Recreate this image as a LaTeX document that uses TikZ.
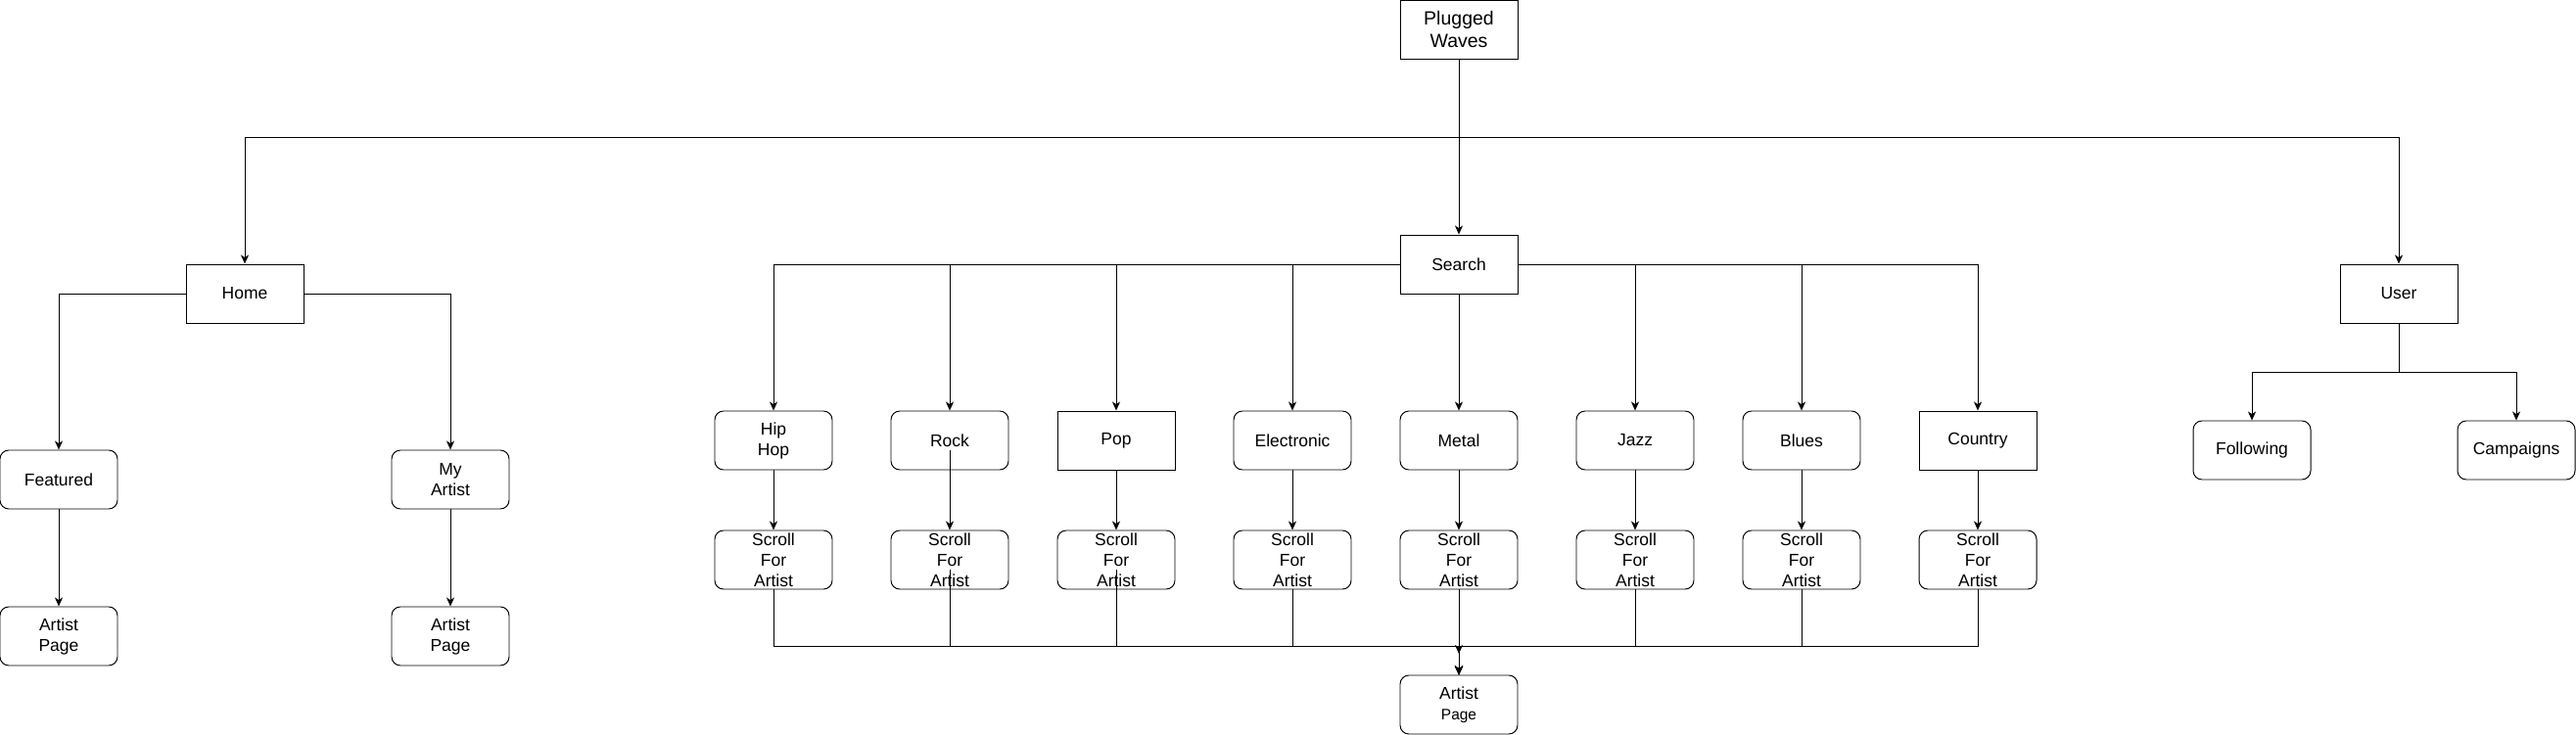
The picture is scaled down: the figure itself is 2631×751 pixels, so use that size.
\documentclass[tikz,border=0pt]{standalone}
\usepackage{fontspec}
\setmainfont{Liberation Sans}
\usetikzlibrary{arrows.meta}
\begin{document}
\begin{tikzpicture}[x=1pt,y=-1pt,line width=0.95pt,
  box/.style={draw, minimum width=120pt, minimum height=60pt, inner sep=0pt, align=center, font=\fontsize{17.5}{21}\selectfont},
  rbox/.style={box, rounded corners=9pt},
  arr/.style={-{Stealth[length=9pt,width=8pt,inset=2.5pt]}}]
\useasboundingbox (0,0) rectangle (2631,751);
% top
\node[box, font=\fontsize{19.5}{23.5}\selectfont] (pw) at (1490,30) {Plugged\\Waves};
\node[box] (home) at (250,300) {Home};
\node[box] (search) at (1490,270) {Search};
\node[box] (user) at (2450,300) {User};
% home branch
\node[rbox] (feat) at (60,490) {Featured};
\node[rbox] (myart) at (460,490) {My\\Artist};
\node[rbox] (apA) at (60,650) {Artist\\Page};
\node[rbox] (apB) at (460,650) {Artist\\Page};
% genres
\node[rbox] (g1) at (790,450) {Hip\\Hop};
\node[rbox] (g2) at (970,450) {Rock};
\node[box]  (g3) at (1140,450) {Pop};
\node[rbox] (g4) at (1320,450) {Electronic};
\node[rbox] (g5) at (1490,450) {Metal};
\node[rbox] (g6) at (1670,450) {Jazz};
\node[rbox] (g7) at (1840,450) {Blues};
\node[box]  (g8) at (2020,450) {Country};
% scroll boxes
\foreach \i/\x in {1/790,2/970,3/1140,4/1320,5/1490,6/1670,7/1840,8/2020}
  \node[rbox] (s\i) at (\x,572) {Scroll\\For\\Artist};
\node[rbox] (ap) at (1490,720) {Artist\\{\fontsize{15.5}{18}\selectfont Page}};
% user branch
\node[rbox] (follow) at (2300,460) {Following};
\node[rbox] (camp) at (2570,460) {Campaigns};
% coordinates
\coordinate (bus) at (1490,140);
\coordinate (ubus) at (2450,380);
\coordinate (bbus) at (1490,660);
\coordinate (mtip) at (1490,668);
% connectors
\draw[arr] (pw) -- (search);
\draw[arr] (pw.south) -- (bus) -| (home.north);
\draw[arr] (pw.south) -- (bus) -| (user.north);
\draw[arr] (home.west) -| (feat.north);
\draw[arr] (home.east) -| (myart.north);
\draw[arr] (feat) -- (apA);
\draw[arr] (myart) -- (apB);
\foreach \g in {g1,g2,g3,g4}
  \draw[arr] (search.west) -| (\g.north);
\draw[arr] (search) -- (g5);
\foreach \g in {g6,g7,g8}
  \draw[arr] (search.east) -| (\g.north);
\draw[arr] (g1) -- (s1);
\draw[arr] ([yshift=-10pt]g2.center) -- (s2.north);
\foreach \i in {3,4,5,6,7,8}
  \draw[arr] (g\i) -- (s\i);
\draw[arr] (user.south) -- (ubus) -| (follow.north);
\draw[arr] (user.south) -- (ubus) -| (camp.north);
\draw[arr] (s1.south) |- (bbus) -- (ap.north);
\draw[arr] ([yshift=-10pt]s2.center) |- (bbus) -- (ap.north);
\draw[arr] ([yshift=-10pt]s3.center) |- (bbus) -- (ap.north);
\draw[arr] (s4.south) |- (bbus) -- (ap.north);
\draw[arr] (s5.south) -- (mtip);
\draw[arr] (s6.south) |- (bbus) -- (ap.north);
\draw[arr] (s7.south) |- (bbus) -- (ap.north);
\draw[arr] (s8.south) |- (bbus) -- (ap.north);
\end{tikzpicture}
\end{document}
